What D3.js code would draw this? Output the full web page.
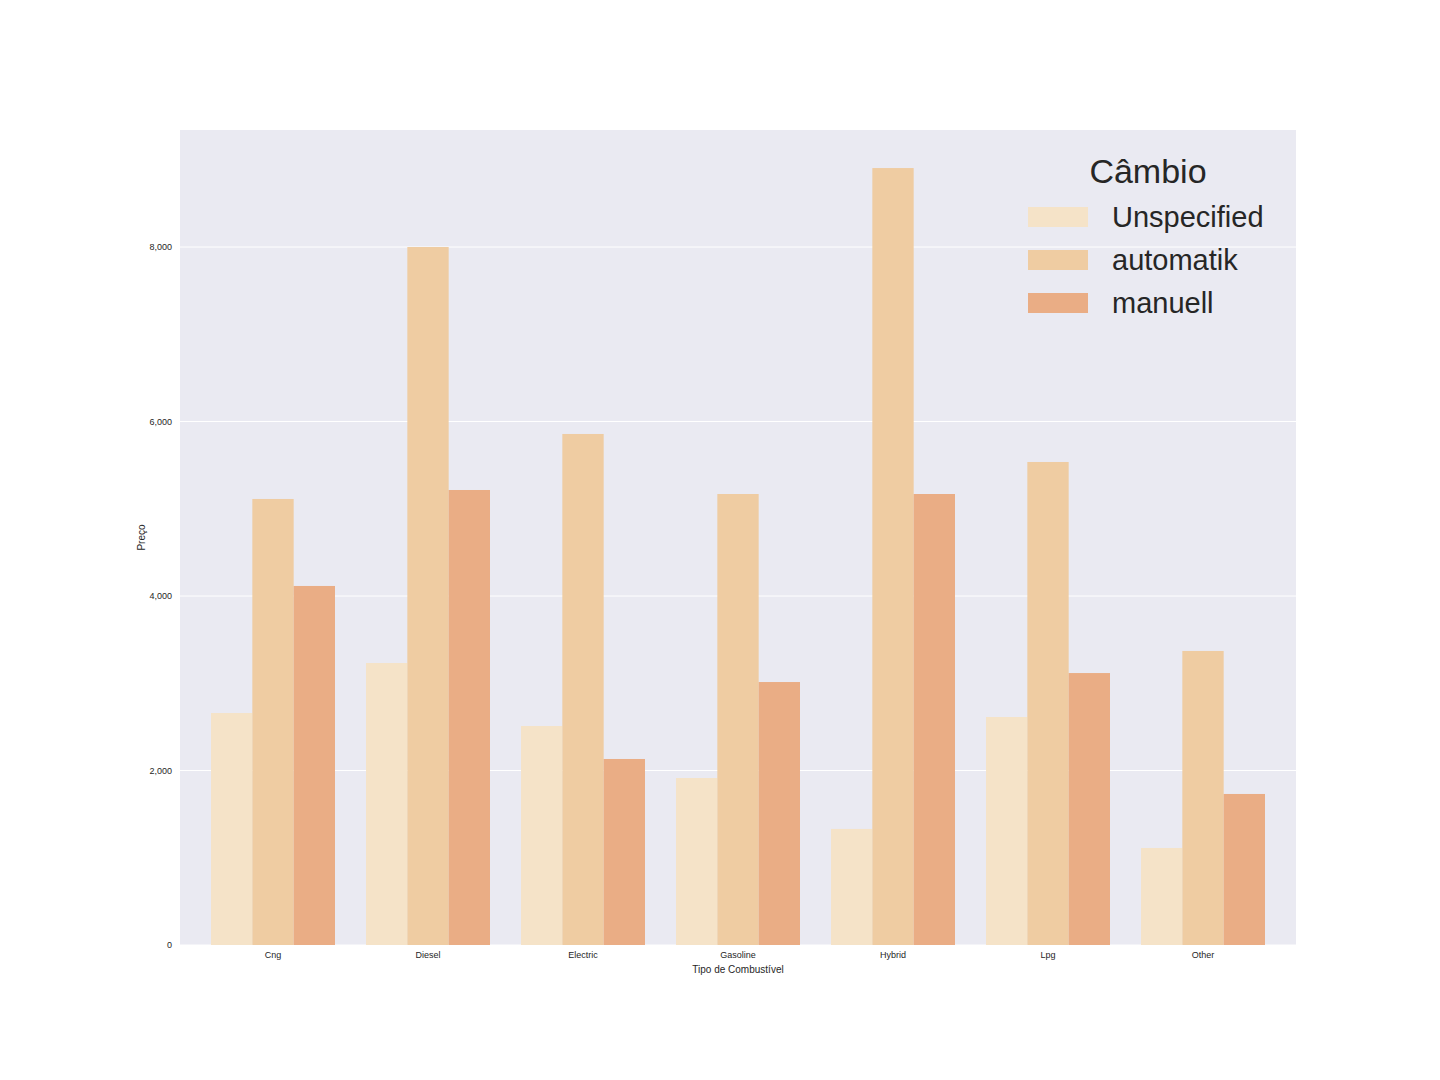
<!DOCTYPE html>
<html><head><meta charset="utf-8">
<script src="https://cdn.jsdelivr.net/npm/d3@7"></script>
<style>body{margin:0;background:#fff;font-family:"Liberation Sans",Arial,sans-serif}</style>
</head><body><svg id="c" width="1440" height="1080"></svg>
<script>
const categories=["Cng","Diesel","Electric","Gasoline","Hybrid","Lpg","Other"];
const seriesNames=["Unspecified","automatik","manuell"];
const unspecified=[2659,3232,2510,1914,1330,2613,1112];
const automatik=[5112,8000,5857,5169,8905,5536,3370];
const manuell=[4115,5215,2132,3014,5169,3117,1731];
const colors=["#f5e3c8","#efcca2","#eaad85"];
const yTicks=[0,2000,4000,6000,8000];
const values=[unspecified,automatik,manuell];

const svg=d3.select("#c");
const L=180,R=1296,T=130,B=945;
svg.append("rect").attr("x",L).attr("y",T).attr("width",R-L).attr("height",B-T).attr("fill","#eaeaf2");
const x=d3.scaleBand().domain(categories).range([L,R]).padding(0.2);
const xs=d3.scaleBand().domain(seriesNames).range([0,x.bandwidth()]);
const y=d3.scaleLinear().domain([0,9341]).range([B,T]);
svg.selectAll(".g").data(yTicks).enter().append("line").attr("x1",L).attr("x2",R)
 .attr("y1",d=>y(d)).attr("y2",d=>y(d)).attr("stroke","#fff").attr("stroke-width",1);
seriesNames.forEach((s,i)=>{
 svg.selectAll(".b"+i).data(categories).enter().append("rect")
  .attr("x",c=>x(c)+xs(s)).attr("width",xs.bandwidth())
  .attr("y",(c,j)=>y(values[i][j])).attr("height",(c,j)=>B-y(values[i][j])).attr("fill",colors[i]);
});
const ya=svg.append("g").attr("transform",`translate(${L},0)`).call(d3.axisLeft(y).tickValues(yTicks).tickSize(0).tickPadding(8));
const xa=svg.append("g").attr("transform",`translate(0,${B})`).call(d3.axisBottom(x).tickSize(0).tickPadding(7));
[ya,xa].forEach(a=>{a.select(".domain").remove();a.selectAll("text").attr("font-size",9).attr("fill","#262626").attr("font-family","Liberation Sans, Arial");});
svg.append("text").attr("x",(L+R)/2).attr("y",973).attr("text-anchor","middle").attr("font-size",10).attr("fill","#262626").text("Tipo de Combustível");
svg.append("text").attr("transform",`translate(145,${(T+B)/2}) rotate(-90)`).attr("text-anchor","middle").attr("font-size",10).attr("fill","#262626").text("Preço");
svg.append("text").attr("x",1148).attr("y",183).attr("text-anchor","middle").attr("font-size",34).attr("fill","#262626").text("Câmbio");
seriesNames.forEach((s,i)=>{
 const yy=217+i*43;
 svg.append("rect").attr("x",1028).attr("y",yy-10).attr("width",60).attr("height",20).attr("fill",colors[i]);
 svg.append("text").attr("x",1112).attr("y",yy+10).attr("font-size",29).attr("fill","#262626").text(s);
});
</script></body></html>
